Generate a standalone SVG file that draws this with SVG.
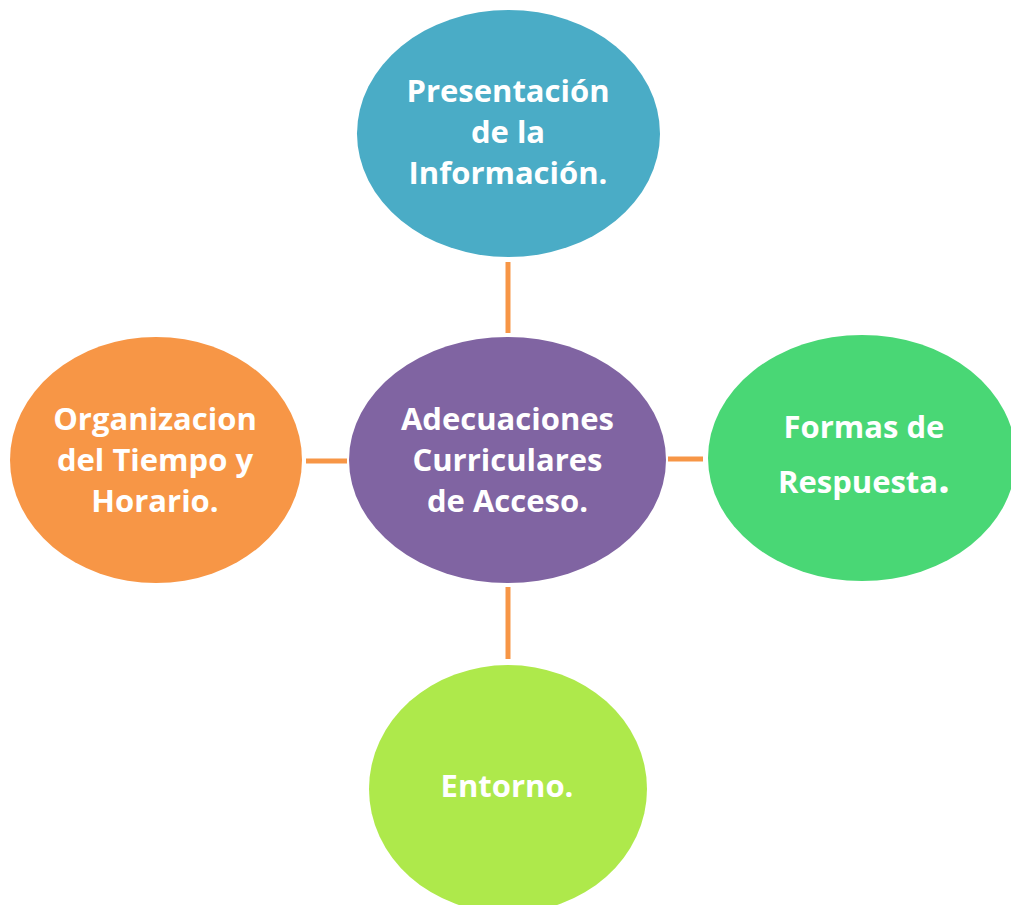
<svg xmlns="http://www.w3.org/2000/svg" width="1011" height="905" viewBox="0 0 1011 905">
<style>
.lbl{font-family:"Open Sans","Noto Sans","Liberation Sans",sans-serif;font-weight:bold;font-size:31px;fill:#ffffff;text-anchor:middle}
.con{stroke:#F79646;stroke-width:5;fill:none}
</style>
<rect width="1011" height="905" fill="#ffffff"/>
<g id="connectors">
<line class="con" x1="508" y1="262" x2="508" y2="333"/>
<line class="con" x1="306" y1="461" x2="347" y2="461"/>
<line class="con" x1="668" y1="459" x2="703" y2="459"/>
<line class="con" x1="508" y1="587" x2="508" y2="659"/>
</g>
<g id="node-presentacion">
<ellipse cx="508.5" cy="133.5" rx="151.5" ry="123.5" fill="#4AACC6"/>
<text class="lbl" x="508" y="102">Presentación</text>
<text class="lbl" x="508" y="143">de la</text>
<text class="lbl" x="508" y="184">Información.</text>
</g>
<g id="node-adecuaciones">
<ellipse cx="507.5" cy="460" rx="158.5" ry="123" fill="#8064A2"/>
<text class="lbl" x="507.5" y="430">Adecuaciones</text>
<text class="lbl" x="507.5" y="471">Curriculares</text>
<text class="lbl" x="507.5" y="512">de Acceso.</text>
</g>
<g id="node-organizacion">
<ellipse cx="156" cy="460" rx="146" ry="123" fill="#F79646"/>
<text class="lbl" x="155" y="430">Organizacion</text>
<text class="lbl" x="155" y="471">del Tiempo y</text>
<text class="lbl" x="155" y="512">Horario.</text>
</g>
<g id="node-formas">
<ellipse cx="862" cy="458" rx="154" ry="123" fill="#49D775"/>
<text class="lbl" x="864" y="438">Formas de</text>
<text class="lbl" x="864" y="493">Respuesta<tspan font-size="42">.</tspan></text>
</g>
<g id="node-entorno">
<ellipse cx="508" cy="789" rx="139" ry="124" fill="#AEE94B"/>
<text class="lbl" x="507" y="797">Entorno.</text>
</g>
</svg>
